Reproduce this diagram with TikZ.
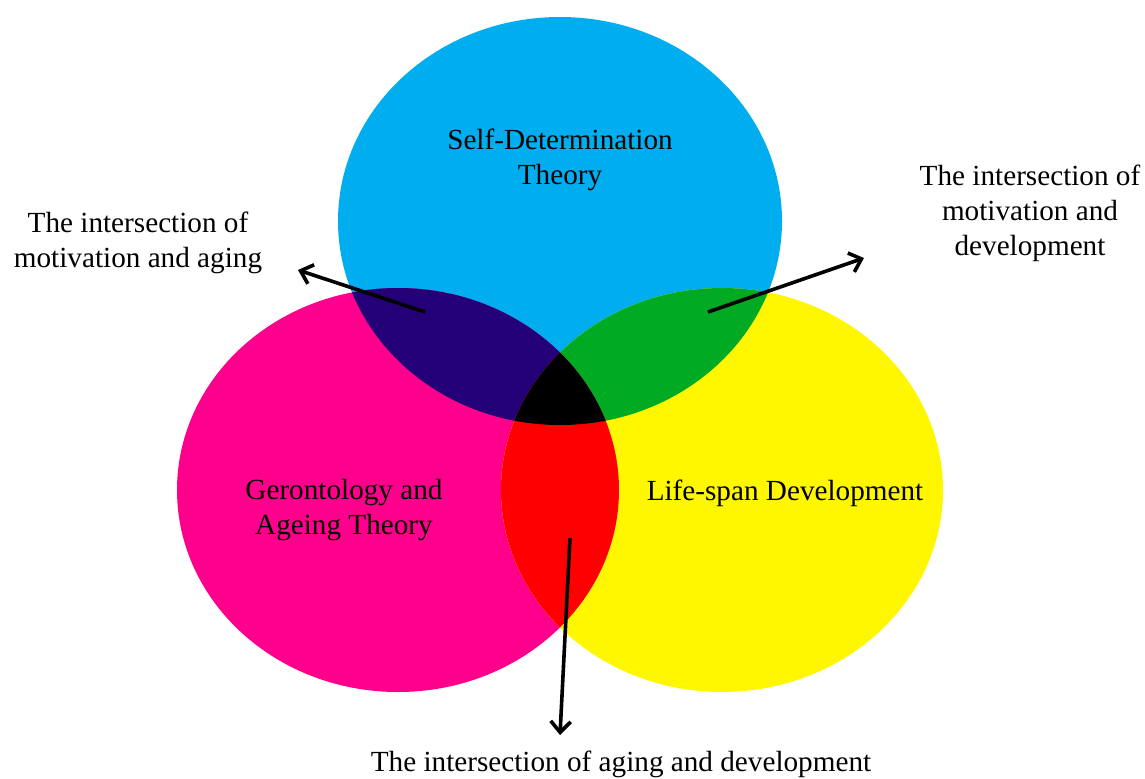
\documentclass[tikz,border=0pt]{standalone}
\usepackage{fontspec}
\setmainfont{Liberation Serif}
\usetikzlibrary{arrows.meta}
\newcommand{\txt}      {\fontsize{14.6}{17.5}\selectfont}
\definecolor{sdtblue}{RGB}{0,173,239}
\definecolor{geromag}{RGB}{255,0,140}
\definecolor{lifeyel}{RGB}{255,247,0}
\definecolor{motage}{RGB}{35,0,120}
\definecolor{motdev}{RGB}{0,170,35}
\definecolor{agedev}{RGB}{255,0,0}

\begin{document}
\begin{tikzpicture}[x=0.5pt,y=-0.5pt,
    lbl/.style={align=center,font=\txt,inner sep=0pt},
    pointer/.style={line width=1.8pt,-{Straight Barb[length=5.5pt,width=10pt,line width=1.8pt]}}]
      \useasboundingbox (0,0) rectangle (1145,778);
      \fill[sdtblue] (560,221) ellipse (222 and 204);
      \fill[geromag] (398,490) ellipse (221 and 202);
      \fill[lifeyel] (722,490) ellipse (221 and 202);
      \begin{scope}
        \clip (560,221) ellipse (222 and 204);
        \fill[motage] (398,490) ellipse (221 and 202);
        \fill[motdev] (722,490) ellipse (221 and 202);
      \end{scope}
      \begin{scope}
        \clip (398,490) ellipse (221 and 202);
        \fill[agedev] (722,490) ellipse (221 and 202);
        \clip (722,490) ellipse (221 and 202);
        \fill[black] (560,221) ellipse (222 and 204);
      \end{scope}
      \node[lbl] (sdt)  at (560,160) {Self-Determination\\Theory};
      \node[lbl] (gero) at (344,510) {Gerontology and\\Ageing Theory};
      \node[lbl] (life) at (785,493) {Life-span Development};
      \node[lbl] (mage) at (138,243) {The intersection of\\motivation and aging};
      \node[lbl] (mdev) at (1030,213) {The intersection of\\motivation and\\development};
      \node[lbl] (adev) at (621,764) {The intersection of aging and development};
      \coordinate (mageA) at (425,312);
      \coordinate (mageB) at (298,270);
      \coordinate (mdevA) at (708,312);
      \coordinate (mdevB) at (864,258);
      \coordinate (adevA) at (570,538);
      \coordinate (adevB) at (560,735);
      \draw[pointer] (mageA) -- (mageB);
      \draw[pointer] (mdevA) -- (mdevB);
      \draw[pointer] (adevA) -- (adevB);
     \end{tikzpicture}
\end{document}
